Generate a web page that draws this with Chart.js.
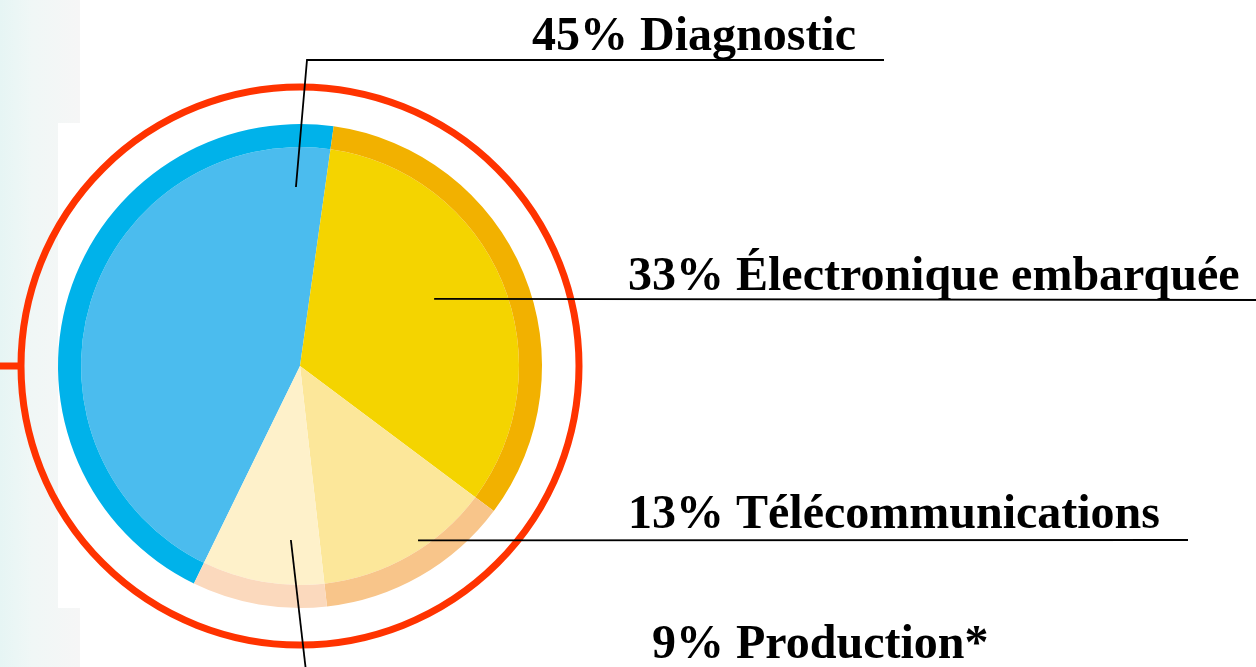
<!DOCTYPE html>
<html lang="fr">
  <head>
    <meta charset="UTF-8" />
    <title>Répartition</title>
    <script src="https://cdn.jsdelivr.net/npm/chart.js@4/dist/chart.umd.min.js"></script>
    <style>
      html, body { margin: 0; padding: 0; background: #fff; }
      .wrap { position: relative; width: 1256px; height: 667px; overflow: hidden; }
      .side { position: absolute; left: 0; top: 0; width: 80px; height: 667px;
              background: linear-gradient(to right, #e6f5f4 0%, #f0f7f6 40%, #f6f6f6 100%); }
      .side-cut { position: absolute; left: 58px; top: 123px; width: 22px; height: 485px; background: #fff; }
      canvas { position: absolute; left: 0; top: 0; }
    </style>
  </head>
  <body>
    <div class="wrap">
      <div class="side"></div>
      <div class="side-cut"></div>
      <canvas id="pie" width="1256" height="667"></canvas>
    </div>

    <script>
      const categories = ["Diagnostic", "Électronique embarquée", "Télécommunications", "Production*"];
      const shares = [45, 33, 13, 9];
      const innerColors = ["#4bbcee", "#f4d400", "#fce79a", "#fef1ca"];
      const ringColors = ["#00b2ea", "#f2b100", "#f8c58a", "#fbd9bd"];

      // where each label sits (anchor in polar coords around the pie, text + line in px)
      const labelLayout = [
        { angle: -1.3, r: 0.74, path: [[307, 60], [884, 60]], tx: 532, ty: 50 },
        { angle: 63.4, r: 0.62, path: [[1256, 300]], tx: 628, ty: 290 },
        { angle: 145.9, r: 0.87, path: [[1188, 540]], tx: 628, ty: 528 },
        { angle: 183, r: 0.72, path: [[307, 680]], tx: 652, ty: 658 },
      ];

      const decor = {
        id: "decor",
        afterDraw(chart) {
          const ctx = chart.ctx;
          const arc = chart.getDatasetMeta(0).data[0];
          const cx = arc.x, cy = arc.y, R = arc.outerRadius;

          // red ring round the pie
          ctx.save();
          ctx.strokeStyle = "#ff3300";
          ctx.lineWidth = 7;
          ctx.beginPath();
          ctx.arc(cx, cy, R + 37, 0, Math.PI * 2);
          ctx.stroke();
          ctx.beginPath();
          ctx.moveTo(0, cy);
          ctx.lineTo(cx - R - 37, cy);
          ctx.stroke();
          ctx.restore();

          // leader lines and labels
          ctx.save();
          ctx.strokeStyle = "#000";
          ctx.lineWidth = 1.8;
          ctx.fillStyle = "#000";
          ctx.font = "bold 48px 'Liberation Serif', 'Times New Roman', serif";
          ctx.textBaseline = "alphabetic";
          labelLayout.forEach((l, i) => {
            const a = (l.angle * Math.PI) / 180;
            const x0 = cx + Math.sin(a) * R * l.r;
            const y0 = cy - Math.cos(a) * R * l.r;
            ctx.beginPath();
            ctx.moveTo(x0, y0);
            l.path.forEach((p) => ctx.lineTo(p[0], p[1]));
            ctx.stroke();
            ctx.fillText(shares[i] + "% " + categories[i], l.tx, l.ty);
          });
          ctx.restore();
        },
      };

      new Chart(document.getElementById("pie"), {
        type: "pie",
        data: {
          labels: categories,
          datasets: [
            { data: shares, backgroundColor: ringColors, borderWidth: 0, weight: 23 },
            { data: shares, backgroundColor: innerColors, borderWidth: 0, weight: 219 },
          ],
        },
        options: {
          responsive: false,
          animation: false,
          rotation: 8 - 360 * 0.45,
          layout: { padding: { left: 58, top: 124, right: 714, bottom: 59 } },
          plugins: { legend: { display: false }, tooltip: { enabled: false } },
        },
        plugins: [decor],
      });
    </script>
  </body>
</html>
